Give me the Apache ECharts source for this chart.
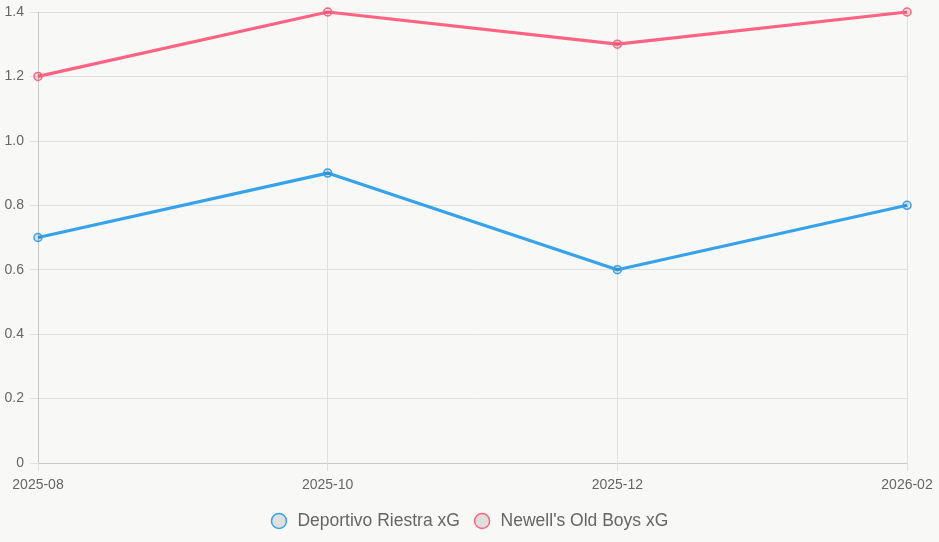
<!DOCTYPE html>
<html>
<head>
<meta charset="utf-8">
<script src="https://cdn.jsdelivr.net/npm/echarts@6/dist/echarts.min.js"></script>
<style>
  html, body { margin: 0; padding: 0; background: #f8f8f6; }
  #chart { width: 939px; height: 542px; }
</style>
</head>
<body>
<div id="chart"></div>
<script>
const months = ['2025-08', '2025-10', '2025-12', '2026-02'];
const riestraXg = [0.7, 0.9, 0.6, 0.8];
const newellsXg = [1.2, 1.4, 1.3, 1.4];
const seriesNames = ['Deportivo Riestra xG', "Newell's Old Boys xG"];
const lineColors = ['#36a2eb', '#ff6384'];

const chart = echarts.init(document.getElementById('chart'));

function lineSeries(name, data, color) {
  return {
    name: name,
    type: 'line',
    data: data,
    symbol: 'circle',
    symbolSize: 8,
    lineStyle: { color: color, width: 3.2 },
    itemStyle: { color: 'rgba(0,0,0,0.1)', borderColor: color, borderWidth: 1.5 },
    emphasis: { disabled: true }
  };
}

chart.setOption({
  backgroundColor: '#f8f8f6',
  textStyle: { fontFamily: 'Liberation Sans, Arial, sans-serif' },
  animation: false,
  grid: { left: 38, right: 32, top: 12, bottom: 79 },
  legend: {
    bottom: 7,
    icon: 'circle',
    itemWidth: 15,
    itemHeight: 15,
    itemGap: 14,
    textStyle: { color: '#666', fontSize: 17.5, padding: [0, 0, 0, 6] },
    data: seriesNames.map((n, i) => ({
      name: n,
      itemStyle: { color: '#dfdfde', borderColor: lineColors[i], borderWidth: 1.5 }
    }))
  },
  xAxis: {
    type: 'category',
    data: months,
    boundaryGap: false,
    axisLine: { lineStyle: { color: '#c8c8c8' } },
    axisTick: { show: true, length: 8, lineStyle: { color: '#e0e0e0' } },
    splitLine: { show: true, lineStyle: { color: '#e0e0e0' } },
    axisLabel: { color: '#666', fontSize: 14, margin: 15 }
  },
  yAxis: {
    type: 'value',
    min: 0,
    max: 1.4,
    interval: 0.2,
    axisLine: { show: true, lineStyle: { color: '#c8c8c8' } },
    axisTick: { show: true, length: 8, lineStyle: { color: '#e0e0e0' } },
    splitLine: { lineStyle: { color: '#e0e0e0' } },
    axisLabel: {
      color: '#666', fontSize: 14, margin: 14,
      formatter: v => v === 0 ? '0' : v.toFixed(1)
    }
  },
  series: [
    lineSeries(seriesNames[0], riestraXg, lineColors[0]),
    lineSeries(seriesNames[1], newellsXg, lineColors[1])
  ]
});
</script>
</body>
</html>
